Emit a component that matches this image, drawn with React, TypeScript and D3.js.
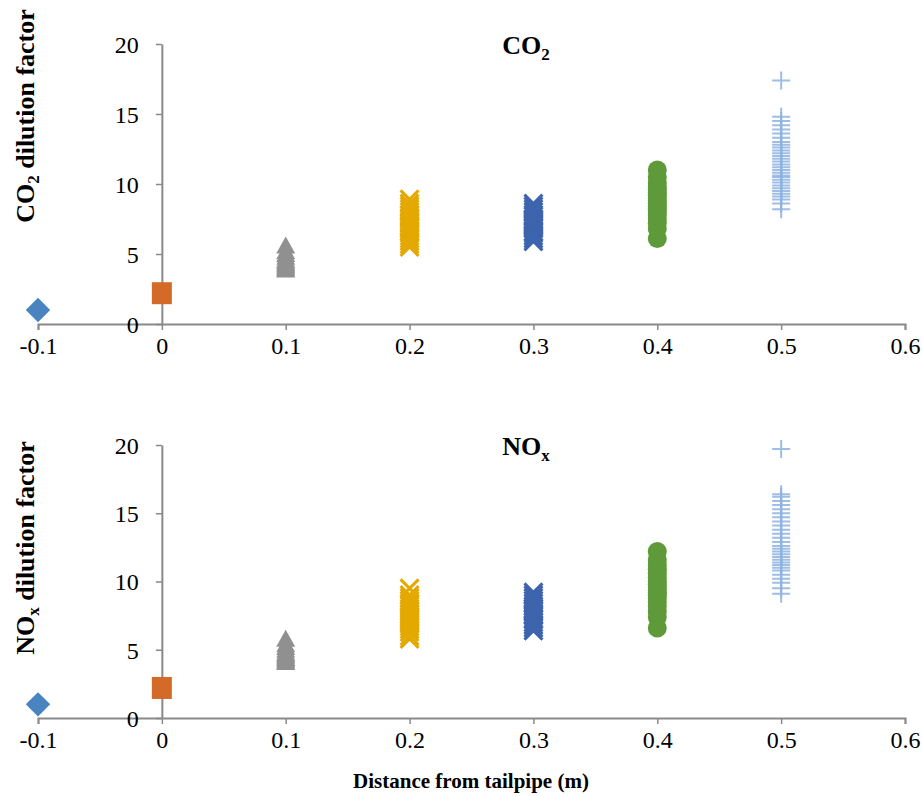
import React, { useRef, useEffect } from "react";
import * as d3 from "d3";

// x positions of each group (m)
const groups = [-0.1, 0, 0.1, 0.2, 0.3, 0.4, 0.5];
const xTicks = [-0.1, 0, 0.1, 0.2, 0.3, 0.4, 0.5, 0.6];
const yTicks = [0, 5, 10, 15, 20];

// CO2 dilution factor
const co2Tail = [1.0];
const co2At0 = [2.2];
const co2At01 = [3.9, 4.0, 4.1, 4.2, 4.3, 4.4, 4.5, 4.6, 4.8, 5.0, 5.2, 5.6];
const co2At02 = [5.5, 5.7, 5.9, 6.1, 6.3, 6.5, 6.6, 6.8, 6.9, 7.0, 7.2, 7.3, 7.5, 7.6, 7.8, 8.0, 8.2, 8.4, 8.6, 8.9];
const co2At03 = [5.9, 6.1, 6.3, 6.5, 6.6, 6.8, 6.9, 7.0, 7.1, 7.2, 7.3, 7.4, 7.5, 7.7, 7.8, 8.0, 8.2, 8.4, 8.6];
const co2At04 = [6.1, 6.8, 7.2, 7.5, 7.8, 8.0, 8.2, 8.4, 8.6, 8.8, 9.0, 9.2, 9.4, 9.6, 9.8, 10.1, 10.5, 11.0];
const co2At05 = [8.2, 8.6, 8.9, 9.1, 9.3, 9.5, 9.7, 9.9, 10.1, 10.3, 10.5, 10.6, 10.8, 11.0, 11.2, 11.4, 11.6, 11.8, 12.0, 12.2, 12.4, 12.6, 12.8, 13.0, 13.3, 13.6, 13.9, 14.2, 14.5, 14.8, 17.4];

// NOx dilution factor
const noxTail = [1.0];
const noxAt0 = [2.2];
const noxAt01 = [4.1, 4.2, 4.3, 4.4, 4.5, 4.6, 4.7, 4.8, 5.0, 5.2, 5.4, 5.8];
const noxAt02 = [5.8, 6.0, 6.3, 6.5, 6.7, 6.9, 7.1, 7.3, 7.4, 7.6, 7.8, 8.0, 8.2, 8.4, 8.6, 8.8, 9.0, 9.5];
const noxAt03 = [6.4, 6.6, 6.8, 7.0, 7.2, 7.3, 7.5, 7.6, 7.8, 7.9, 8.0, 8.2, 8.4, 8.6, 8.8, 9.0, 9.2];
const noxAt04 = [6.6, 7.4, 7.8, 8.2, 8.5, 8.8, 9.0, 9.2, 9.4, 9.6, 9.8, 10.0, 10.3, 10.6, 10.9, 11.2, 11.6, 12.2];
const noxAt05 = [9.1, 9.5, 9.9, 10.2, 10.5, 10.8, 11.0, 11.2, 11.4, 11.6, 11.8, 12.0, 12.2, 12.4, 12.6, 12.9, 13.2, 13.5, 13.8, 14.1, 14.4, 14.7, 15.0, 15.3, 15.6, 15.9, 16.2, 16.4, 19.7];

const markers = ["diamond", "square", "triangle", "x", "x", "circle", "plus"];
const colors = ["#4A84C0", "#D46A28", "#909090", "#E4A900", "#3D64AD", "#5F9A3A", "#8DB3E2"];

const serif = "'Liberation Serif', 'Times New Roman', serif";

function drawPanel(g, series, yRange, title, titleSub, yLabel, yLabelSub, labelY) {
  const x = d3.scaleLinear().domain([-0.1, 0.6]).range([38, 905]);
  const y = d3.scaleLinear().domain([0, 20]).range(yRange);
  const axisColor = "#898989";

  // x axis
  const xAxis = g.append("g").attr("transform", `translate(0,${y(0)})`)
    .call(d3.axisBottom(x).tickValues(xTicks).tickSize(6).tickFormat((d) => `${d}`));
  xAxis.attr("font-size", null).attr("font-family", null);
  xAxis.select(".domain").attr("stroke", axisColor).attr("stroke-width", 2);
  xAxis.selectAll(".tick line").attr("stroke", axisColor).attr("stroke-width", 1.5);
  xAxis.selectAll(".tick text").style("font-family", serif).style("font-size", "24px")
    .attr("fill", "#000").attr("dy", "0.85em").attr("y", 10);

  // y axis at x = 0
  const yAxis = g.append("g").attr("transform", `translate(${x(0)},0)`)
    .call(d3.axisLeft(y).tickValues(yTicks).tickSize(6).tickSizeOuter(0));
  yAxis.attr("font-size", null).attr("font-family", null);
  yAxis.select(".domain").attr("stroke", axisColor).attr("stroke-width", 2);
  yAxis.selectAll(".tick line").attr("stroke", axisColor).attr("stroke-width", 1.5);
  yAxis.selectAll(".tick text").style("font-family", serif).style("font-size", "24px")
    .attr("fill", "#000").attr("x", -23).attr("dy", "0.35em");

  series.forEach((vals, i) => {
    const cx = x(groups[i]);
    const m = markers[i];
    const c = colors[i];
    const sg = g.append("g");
    vals.forEach((v) => {
      const cy = y(v);
      if (m === "diamond") {
        sg.append("path").attr("d", d3.symbol(d3.symbolDiamond2, 380)())
          .attr("transform", `translate(${cx},${cy})`).attr("fill", c);
      } else if (m === "square") {
        sg.append("rect").attr("x", cx - 10).attr("y", cy - 11).attr("width", 20).attr("height", 22)
          .attr("fill", c);
      } else if (m === "triangle") {
        sg.append("path").attr("d", `M${cx},${cy - 9}L${cx + 9.5},${cy + 8}L${cx - 9.5},${cy + 8}Z`)
          .attr("fill", c);
      } else if (m === "circle") {
        sg.append("circle").attr("cx", cx).attr("cy", cy).attr("r", 9.5).attr("fill", c);
      } else if (m === "x") {
        sg.append("path").attr("d", `M${cx - 9},${cy - 9}L${cx + 9},${cy + 9}M${cx + 9},${cy - 9}L${cx - 9},${cy + 9}`)
          .attr("stroke", c).attr("stroke-width", 3).attr("fill", "none");
      } else if (m === "plus") {
        sg.append("path").attr("d", `M${cx - 9},${cy}L${cx + 9},${cy}M${cx},${cy - 9}L${cx},${cy + 9}`)
          .attr("stroke", c).attr("stroke-width", 2).attr("fill", "none").attr("opacity", 0.85);
      }
    });
  });

  // title
  const t = g.append("text").attr("x", 526).attr("y", yRange[1] + 10).attr("text-anchor", "middle")
    .attr("font-family", serif).attr("font-size", 26).attr("font-weight", "bold").attr("fill", "#000");
  t.append("tspan").text(title);
  t.append("tspan").attr("font-size", 17).attr("dy", 6).text(titleSub);

  // y label
  const yl = g.append("text").attr("transform", `translate(34,${labelY}) rotate(-90)`)
    .attr("text-anchor", "middle").attr("font-family", serif).attr("font-size", 26)
    .attr("font-weight", "bold").attr("fill", "#000");
  yl.append("tspan").text(yLabel);
  yl.append("tspan").attr("font-size", 17).attr("dy", 5).text(yLabelSub);
  yl.append("tspan").attr("dy", -5).text(" dilution factor");
}

export default function App() {
  const ref = useRef(null);

  useEffect(() => {
    const svg = d3.select(ref.current);
    svg.selectAll("*").remove();
    svg.append("rect").attr("width", 922).attr("height", 797).attr("fill", "#fff");

    drawPanel(svg.append("g"),
      [co2Tail, co2At0, co2At01, co2At02, co2At03, co2At04, co2At05],
      [324, 44], "CO", "2", "CO", "2", 116);
    drawPanel(svg.append("g"),
      [noxTail, noxAt0, noxAt01, noxAt02, noxAt03, noxAt04, noxAt05],
      [718, 445], "NO", "x", "NO", "x", 548);

    svg.append("text").attr("x", 471).attr("y", 788).attr("text-anchor", "middle")
      .attr("font-family", serif).attr("font-size", 21).attr("font-weight", "bold")
      .attr("fill", "#000").text("Distance from tailpipe (m)");
  }, []);

  return (
    <div style={{ position: "absolute", left: 0, top: 0 }}>
      <svg ref={ref} width={922} height={797} style={{ display: "block" }}></svg>
    </div>
  );
}
